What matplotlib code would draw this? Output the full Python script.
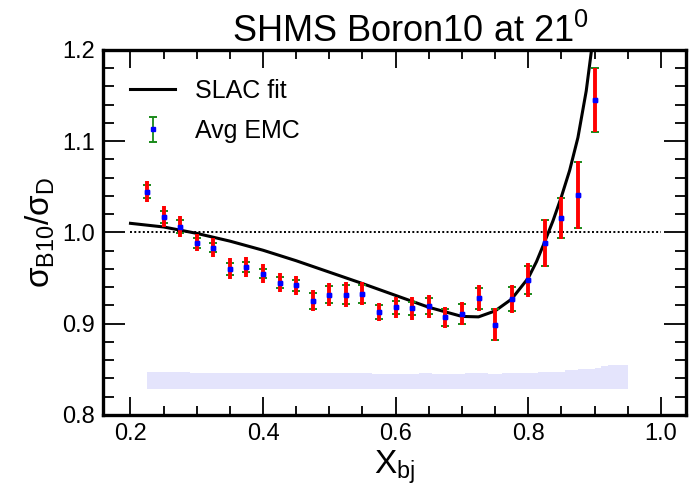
import numpy as np
import matplotlib
matplotlib.use('Agg')
import matplotlib.pyplot as plt
from matplotlib.ticker import MultipleLocator

plt.rcParams['font.family'] = ['Liberation Sans', 'DejaVu Sans']
plt.rcParams['mathtext.fontset'] = 'custom'
plt.rcParams['mathtext.rm'] = 'Liberation Sans'
plt.rcParams['mathtext.it'] = 'Liberation Sans:italic'

# Avg EMC ratio points
x_bj = [0.225, 0.25, 0.275, 0.30, 0.325, 0.35, 0.375, 0.40, 0.425, 0.45,
        0.475, 0.50, 0.525, 0.55, 0.575, 0.60, 0.625, 0.65, 0.675, 0.70,
        0.725, 0.75, 0.775, 0.80, 0.825, 0.85, 0.875, 0.90]
ratio = [1.0447, 1.0173, 1.0064, 0.9888, 0.983, 0.960, 0.962, 0.955, 0.945, 0.942,
         0.925, 0.932, 0.932, 0.933, 0.913, 0.918, 0.917, 0.919, 0.907, 0.911,
         0.928, 0.899, 0.927, 0.948, 0.988, 1.016, 1.041, 1.1455]
err_red = [0.0113, 0.0117, 0.0118, 0.0091, 0.0104, 0.0115, 0.0106, 0.0106, 0.0106, 0.0104,
           0.0115, 0.0128, 0.0132, 0.0128, 0.0102, 0.0115, 0.0124, 0.0128, 0.0117, 0.0128,
           0.0139, 0.0183, 0.0153, 0.0186, 0.0263, 0.0230, 0.0373, 0.0351]
err_green = [0.0069, 0.0064, 0.0073, 0.0055, 0.0049, 0.0064, 0.0055, 0.0053, 0.0057, 0.0057,
             0.0088, 0.0088, 0.0099, 0.0099, 0.0075, 0.0069, 0.0071, 0.0088, 0.0091, 0.0110,
             0.0115, 0.0168, 0.0132, 0.0153, 0.0252, 0.0219, 0.0362, 0.0351]

# SLAC fit curve
fit_x = [0.20, 0.25, 0.30, 0.35, 0.40, 0.45, 0.50, 0.55, 0.60, 0.65, 0.70, 0.725,
         0.75, 0.775, 0.80, 0.8125, 0.825, 0.8375, 0.85, 0.8625, 0.875, 0.8875, 0.90]
fit_y = [1.010, 1.006, 0.999, 0.9905, 0.9805, 0.969, 0.9565, 0.944, 0.931, 0.918, 0.908, 0.9075,
         0.914, 0.927, 0.950, 0.968, 0.990, 1.013, 1.039, 1.068, 1.104, 1.155, 1.225]

# systematic band (step histogram)
band_edges = [0.225, 0.29, 0.565, 0.635, 0.655, 0.705, 0.74, 0.76, 0.815, 0.855,
              0.875, 0.90, 0.91, 0.92, 0.95]
band_top = [0.847, 0.846, 0.8446, 0.846, 0.8446, 0.846, 0.8446, 0.846, 0.8475, 0.849,
            0.8504, 0.852, 0.8537, 0.8548]
band_bottom = 0.8285

fig = plt.figure(figsize=(6.92, 4.90), dpi=100)
ax = fig.add_axes([0.1493, 0.1531, 0.842, 0.745])

bx = np.repeat(band_edges, 2)[1:-1]
by = np.repeat(band_top, 2)
ax.fill_between(bx, band_bottom, by, color='#e4e4fc', lw=0, zorder=1)

ax.plot([0.2, 1.0], [1.0, 1.0], color='black', lw=1.4, ls=(0, (1, 1.2)), zorder=2)
ax.plot(fit_x, fit_y, color='black', lw=2.2, zorder=3, label='SLAC fit')

# green (with caps) underneath, red bars on top, blue squares last
ax.errorbar(x_bj, ratio, yerr=err_green, fmt='s', color='blue', ms=3.0,
            ecolor='#1a8a1a', elinewidth=1.3, capsize=3.2, capthick=1.4, zorder=4,
            label='Avg EMC')
ax.errorbar(x_bj, ratio, yerr=err_red, fmt='none', ecolor='red', elinewidth=2.8,
            capsize=0, zorder=5)
ax.plot(x_bj, ratio, 's', color='blue', ms=3.3, zorder=6)

ax.set_xlim(0.159, 1.038)
ax.set_ylim(0.8, 1.2)
ax.xaxis.set_major_locator(MultipleLocator(0.2))
ax.xaxis.set_minor_locator(MultipleLocator(0.05))
ax.yaxis.set_major_locator(MultipleLocator(0.1))
ax.yaxis.set_minor_locator(MultipleLocator(0.02))
ax.tick_params(which='both', direction='in', top=True, right=True, width=1.3,
               labelsize=17, colors='black')
ax.tick_params(which='major', length=13, pad=6)
ax.tick_params(which='minor', length=6.5)
ax.tick_params(axis='y', which='major', length=16)
ax.tick_params(axis='y', which='minor', length=8)
ax.xaxis.set_major_formatter(plt.FuncFormatter(lambda v, p: f'{v:.1f}'))
ax.yaxis.set_major_formatter(plt.FuncFormatter(lambda v, p: f'{v:.1f}'))
for s in ax.spines.values():
    s.set_linewidth(2.4)

ax.set_xlabel(r'$\mathregular{X_{bj}}$', fontsize=24, labelpad=2)
ax.set_ylabel(r'$\mathregular{\sigma_{B10}/\sigma_{D}}$', fontsize=24, labelpad=4)
ax.set_title(r'SHMS Boron10 at 21$\mathregular{^{0}}$', fontsize=26, pad=6, x=0.527)

ax.legend(loc='upper left', bbox_to_anchor=(0.0287, 0.948), frameon=False, fontsize=18,
          handlelength=1.8, handletextpad=0.8, labelspacing=0.65, borderaxespad=0.0)

fig.savefig('out.png', dpi=100)
